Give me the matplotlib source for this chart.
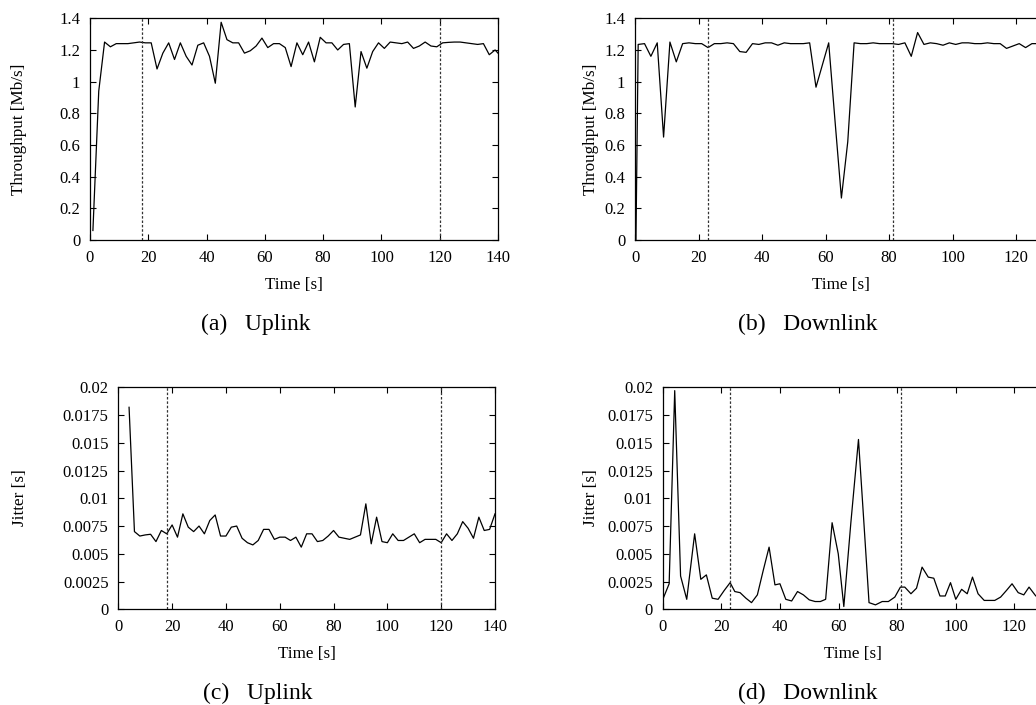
import matplotlib
matplotlib.use('Agg')
import matplotlib.pyplot as plt
import numpy as np

plt.rcParams['font.family'] = ['Liberation Serif', 'DejaVu Serif']
plt.rcParams['font.size'] = 12

# ---------------- data ----------------
# (a) Uplink throughput, sampled every 2 s starting at t=1
up_thr_t = list(range(1, 143, 2))
up_thr = [0.06, 0.94, 1.25, 1.22, 1.24, 1.24, 1.24, 1.245, 1.25, 1.245,
          1.245, 1.08, 1.18, 1.245, 1.14, 1.245, 1.16, 1.105, 1.23, 1.245,
          1.16, 0.99, 1.375, 1.265, 1.245, 1.245, 1.18, 1.195, 1.225, 1.275,
          1.215, 1.24, 1.24, 1.215, 1.095, 1.245, 1.17, 1.25, 1.125, 1.28,
          1.245, 1.245, 1.2, 1.235, 1.24, 0.84, 1.19, 1.085, 1.19, 1.245,
          1.21, 1.25, 1.245, 1.24, 1.25, 1.21, 1.225, 1.25, 1.225, 1.22,
          1.245, 1.248, 1.25, 1.25, 1.245, 1.24, 1.235, 1.24, 1.17, 1.2,
          1.16]

# (b) Downlink throughput
down_thr_t = [0.3] + list(range(1, 141, 2))
down_thr = [0.0,
            1.235, 1.24, 1.16, 1.245, 0.65, 1.25, 1.125, 1.24, 1.245, 1.24,
            1.24, 1.215, 1.24, 1.24, 1.245, 1.24, 1.19, 1.185, 1.24, 1.235,
            1.245, 1.245, 1.23, 1.245, 1.24, 1.24, 1.24, 1.245, 0.965, 1.105,
            1.245, 0.75, 0.265, 0.62, 1.245, 1.24, 1.24, 1.245, 1.24, 1.24,
            1.24, 1.235, 1.245, 1.16, 1.31, 1.235, 1.245, 1.24, 1.23, 1.245,
            1.235, 1.245, 1.245, 1.24, 1.24, 1.245, 1.24, 1.24, 1.21, 1.225,
            1.24, 1.215, 1.24, 1.24, 1.235, 1.24, 1.24, 1.235, 1.24, 1.24]

# (c) Uplink jitter, every 2 s from t=4
up_jit_t = list(range(4, 142, 2))
up_jit = [0.0182, 0.0070, 0.0066, 0.0067, 0.00676, 0.0061, 0.0071, 0.0068, 0.0076, 0.0065,
          0.0086, 0.0074, 0.0070, 0.0075, 0.0068, 0.0080, 0.0085, 0.0066, 0.0066, 0.0074,
          0.0075, 0.0064, 0.0060, 0.0058, 0.0062, 0.0072, 0.0072, 0.0063, 0.0065, 0.0065,
          0.0062, 0.0065, 0.0056, 0.0068, 0.0068, 0.0061, 0.0062, 0.0066, 0.0071, 0.0065,
          0.0064, 0.0063, 0.0065, 0.0067, 0.0095, 0.0059, 0.0083, 0.0061, 0.0060, 0.0068,
          0.0062, 0.0062, 0.0065, 0.0068, 0.0060, 0.0063, 0.0063, 0.0063, 0.0060, 0.0068,
          0.0062, 0.0068, 0.0079, 0.0073, 0.0064, 0.0083, 0.0071, 0.0072, 0.0086]

# (d) Downlink jitter
down_jit_t = [0.2, 2.2, 4.1, 6.1, 8.2, 10.9, 13.0, 14.9, 16.9, 18.9,
              21.0, 23.0, 24.6, 26.4, 28.4, 30.3, 32.3, 34.3, 36.3, 38.3,
              40.0, 42.0, 44.0, 46.0, 48.0, 50.0, 52.0, 53.8, 55.6, 57.8,
              59.9, 61.8, 64.2, 66.8, 68.6, 70.4, 72.6, 74.9, 77.0, 79.2,
              81.1, 82.6, 84.7, 86.6, 88.5, 90.6, 92.5, 94.6, 96.4, 98.2,
              100.0, 102.0, 103.9, 105.7, 107.6, 109.7, 111.6, 113.3, 115.3, 117.3,
              119.2, 121.3, 123.2, 125.0, 127.3, 129.3]
down_jit = [0.0010, 0.0023, 0.0197, 0.0030, 0.0009, 0.0068, 0.0027, 0.0031, 0.0010, 0.0009,
            0.0017, 0.0024, 0.0016, 0.0015, 0.0010, 0.0006, 0.0013, 0.0035, 0.0056, 0.0022,
            0.0023, 0.0009, 0.00075, 0.0016, 0.0013, 0.00085, 0.0007, 0.0007, 0.0009, 0.0078,
            0.0050, 0.00025, 0.0078, 0.0153, 0.0080, 0.0006, 0.0004, 0.0007, 0.0007, 0.0011,
            0.0020, 0.0020, 0.0014, 0.0019, 0.0038, 0.0029, 0.0028, 0.0012, 0.0012, 0.0024,
            0.0009, 0.0018, 0.0014, 0.0029, 0.0014, 0.0008, 0.0008, 0.0008, 0.0011, 0.0017,
            0.0023, 0.0015, 0.0013, 0.0020, 0.0012, 0.0014]

up_marks = [18, 120]
down_marks = [23, 81.2]

thr_ticks = [0, 0.2, 0.4, 0.6, 0.8, 1.0, 1.2, 1.4]
thr_labels = ['0', '0.2', '0.4', '0.6', '0.8', '1', '1.2', '1.4']
jit_ticks = [0, 0.0025, 0.005, 0.0075, 0.01, 0.0125, 0.015, 0.0175, 0.02]
jit_labels = ['0', '0.0025', '0.005', '0.0075', '0.01', '0.0125', '0.015', '0.0175', '0.02']
x_ticks_full = [0, 20, 40, 60, 80, 100, 120, 140]
x_ticks_cut = [0, 20, 40, 60, 80, 100, 120]

captions = ['(a)   Uplink', '(b)   Downlink', '(c)   Uplink', '(d)   Downlink']

# ---------------- figure ----------------
W, H = 1036, 705
fig = plt.figure(figsize=(W / 100, H / 100), dpi=100)

TICK_FS = 12
LABEL_FS = 12.3
CAP_FS = 17


def add_ax(x0, x1, y0, y1):
    return fig.add_axes([x0 / W, 1 - y1 / H, (x1 - x0) / W, (y1 - y0) / H])


def style(ax, xmax, xticks, ylim, yticks, ylabels):
    ax.set_xlim(0, xmax)
    ax.set_ylim(*ylim)
    ax.set_xticks(xticks)
    ax.set_xticklabels([str(v) for v in xticks])
    ax.set_yticks(yticks)
    ax.set_yticklabels(ylabels)
    ax.tick_params(direction='in', length=4, width=0.8, top=True, right=True,
                   labelsize=TICK_FS, pad=7, colors='black')
    for s in ax.spines.values():
        s.set_linewidth(0.9)
    ax.set_xlabel('Time [s]', fontsize=LABEL_FS, labelpad=8)


line_kw = dict(color='black', lw=0.9)
mark_kw = dict(color='#333333', lw=0.9, ls=(0, (2.0, 1.5)))

ax_a = add_ax(90, 498, 18.3, 240)
ax_a.plot(up_thr_t, up_thr, **line_kw)
for m in up_marks:
    ax_a.axvline(m, **mark_kw)
style(ax_a, 140, x_ticks_full, (0, 1.4), thr_ticks, thr_labels)

ax_b = add_ax(635, 1047.8, 18.3, 240)
ax_b.plot(down_thr_t, down_thr, **line_kw)
for m in down_marks:
    ax_b.axvline(m, **mark_kw)
style(ax_b, 130, x_ticks_cut, (0, 1.4), thr_ticks, thr_labels)

ax_c = add_ax(118.3, 495, 387.3, 609.3)
ax_c.plot(up_jit_t, up_jit, **line_kw)
for m in up_marks:
    ax_c.axvline(m, **mark_kw)
style(ax_c, 140, x_ticks_full, (0, 0.02), jit_ticks, jit_labels)

ax_d = add_ax(662.7, 1043.7, 387.3, 609.3)
ax_d.plot(down_jit_t, down_jit, **line_kw)
for m in down_marks:
    ax_d.axvline(m, **mark_kw)
style(ax_d, 130, x_ticks_cut, (0, 0.02), jit_ticks, jit_labels)

# y labels
fig.text(19.5 / W, 1 - 129 / H, 'Throughput [Mb/s]', rotation=90, ha='center', va='center', fontsize=LABEL_FS)
fig.text(591 / W, 1 - 129 / H, 'Throughput [Mb/s]', rotation=90, ha='center', va='center', fontsize=LABEL_FS)
fig.text(19.5 / W, 1 - 498 / H, 'Jitter [s]', rotation=90, ha='center', va='center', fontsize=LABEL_FS)
fig.text(591 / W, 1 - 498 / H, 'Jitter [s]', rotation=90, ha='center', va='center', fontsize=LABEL_FS)

# captions
cap_pos = [(256, 330), (808, 330), (258, 699), (808, 699)]
for (cx, cy), txt in zip(cap_pos, captions):
    fig.text(cx / W, 1 - cy / H, txt, ha='center', va='baseline', fontsize=CAP_FS)

fig.savefig('out.png', dpi=100)
